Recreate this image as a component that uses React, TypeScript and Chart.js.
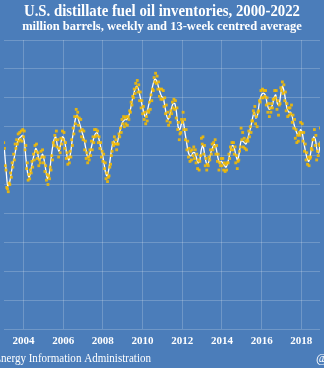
import React, { useEffect, useRef } from 'react';
import { Chart, registerables } from 'chart.js';

Chart.register(...registerables);

// ---------- data (million barrels) ----------
const seriesYears = [2003, 2004, 2005, 2006, 2007, 2008, 2009, 2010, 2011, 2012, 2013, 2014, 2015, 2016, 2017, 2018];

// weekly inventories, read every other week (26 readings per year)
const wk2003 = [129, 125, 113, 110, 98, 97, 95, 101, 100, 108, 105, 115, 112, 121, 117, 128, 125, 131, 128, 135, 130, 136, 131, 137, 130, 138];
const wk2004 = [133, 137, 124, 127, 111, 115, 103, 107, 104, 110, 108, 116, 112, 121, 117, 127, 123, 128, 118, 122, 113, 117, 115, 123, 119, 124];
const wk2005 = [115, 119, 109, 113, 103, 107, 100, 106, 104, 112, 110, 120, 117, 129, 127, 134, 131, 137, 126, 131, 119, 125, 122, 132, 128, 137];
const wk2006 = [131, 136, 125, 129, 118, 122, 114, 119, 115, 123, 119, 131, 127, 139, 135, 147, 142, 152, 147, 150, 141, 146, 137, 145, 133, 138];
const wk2007 = [131, 137, 124, 130, 118, 122, 115, 119, 117, 124, 120, 130, 124, 133, 129, 138, 133, 138, 134, 137, 129, 133, 125, 129, 119, 123];
const wk2008 = [116, 121, 111, 115, 104, 108, 102, 105, 106, 112, 114, 120, 123, 129, 127, 133, 128, 131, 124, 128, 128, 135, 133, 139, 136, 145];
const wk2009 = [142, 147, 140, 146, 142, 147, 141, 147, 145, 151, 150, 157, 155, 161, 160, 166, 163, 170, 167, 172, 164, 169, 158, 164, 153, 158];
const wk2010 = [149, 154, 145, 150, 142, 147, 144, 151, 150, 157, 152, 162, 158, 166, 165, 174, 171, 177, 170, 175, 166, 171, 161, 166, 159, 166];
const wk2011 = [159, 165, 154, 160, 149, 155, 144, 150, 141, 147, 143, 151, 149, 157, 153, 159, 152, 158, 146, 153, 138, 143, 131, 135, 136, 145];
const wk2012 = [143, 150, 138, 145, 131, 138, 124, 130, 119, 125, 116, 123, 117, 124, 120, 126, 118, 124, 115, 121, 111, 117, 110, 116, 120, 132];
const wk2013 = [128, 133, 121, 127, 113, 118, 110, 114, 113, 119, 117, 124, 121, 128, 124, 129, 126, 131, 121, 127, 116, 121, 110, 115, 113, 118];
const wk2014 = [113, 118, 110, 115, 109, 114, 110, 115, 115, 121, 118, 126, 124, 129, 124, 129, 121, 126, 115, 120, 111, 116, 117, 123, 126, 139];
const wk2015 = [131, 136, 126, 132, 125, 130, 124, 131, 130, 137, 133, 140, 136, 144, 144, 151, 149, 154, 142, 147, 140, 150, 151, 158, 157, 165];
const wk2016 = [160, 166, 160, 165, 161, 165, 155, 160, 150, 156, 147, 153, 150, 156, 153, 159, 159, 165, 160, 165, 152, 158, 148, 155, 156, 167];
const wk2017 = [165, 171, 163, 169, 158, 164, 151, 156, 147, 153, 148, 153, 149, 155, 143, 148, 139, 145, 132, 138, 129, 134, 130, 136, 134, 143];
const wk2018 = [136, 142, 130, 136, 123, 128, 117, 122, 114, 119, 113, 118, 119, 125, 124, 131, 131, 138, 127, 134, 117, 123, 120, 128, 127, 139];

// 13-week centred average, read once a month (mid-month)
const avg2003 = [124, 110, 99, 101, 107, 114, 119, 125, 130, 132, 133, 134];
const avg2004 = [130, 118, 108, 105, 110, 116, 121, 125, 122, 117, 118, 121];
const avg2005 = [117, 110, 104, 107, 116, 125, 131, 133, 127, 123, 128, 133];
const avg2006 = [132, 126, 119, 117, 122, 131, 139, 146, 148, 144, 140, 136];
const avg2007 = [132, 126, 120, 119, 123, 128, 132, 135, 136, 132, 127, 122];
const avg2008 = [116, 109, 106, 110, 118, 126, 130, 128, 128, 133, 138, 142];
const avg2009 = [144, 145, 145, 147, 151, 157, 162, 166, 168, 166, 161, 156];
const avg2010 = [151, 147, 149, 154, 159, 165, 170, 173, 172, 168, 164, 161];
const avg2011 = [160, 154, 148, 145, 148, 153, 156, 156, 150, 140, 138, 142];
const avg2012 = [144, 137, 130, 123, 120, 120, 122, 122, 119, 115, 116, 124];
const avg2013 = [127, 121, 115, 114, 118, 123, 126, 128, 125, 119, 115, 116];
const avg2014 = [115, 113, 112, 115, 120, 125, 127, 125, 120, 117, 122, 130];
const avg2015 = [130, 129, 128, 131, 136, 140, 146, 150, 146, 148, 156, 161];
const avg2016 = [163, 163, 161, 155, 152, 153, 155, 160, 162, 156, 155, 162];
const avg2017 = [168, 165, 158, 152, 150, 150, 147, 142, 138, 135, 134, 138];
const avg2018 = [136, 129, 123, 118, 116, 121, 128, 133, 131, 124, 122, 130];

const weeklyByYear = [wk2003, wk2004, wk2005, wk2006, wk2007, wk2008, wk2009, wk2010, wk2011, wk2012, wk2013, wk2014, wk2015, wk2016, wk2017, wk2018];
const avgByYear = [avg2003, avg2004, avg2005, avg2006, avg2007, avg2008, avg2009, avg2010, avg2011, avg2012, avg2013, avg2014, avg2015, avg2016, avg2017, avg2018];

const tickYears = [2004, 2006, 2008, 2010, 2012, 2014, 2016, 2018];
const yGridValues = [0, 20, 40, 60, 80, 100, 120, 140, 160, 180, 200];

const TITLE = 'U.S. distillate fuel oil inventories, 2000-2022';
const SUBTITLE = 'million barrels, weekly and 13-week centred average';
const SOURCE = 'Source: U.S. Energy Information Administration';
const HANDLE = '@JKempEnergy';

// ---------- styling ----------
const W = 324;
const H = 368;
const BG = '#4b7dba';
const GRID = 'rgba(255,255,255,0.2)';
const DOT = 'rgba(246,188,0,0.88)';
const SERIF = '"Liberation Serif", "DejaVu Serif", serif';

const weeklyPoints = weeklyByYear.flatMap((vals, yi) =>
  vals.map((v, i) => ({ x: seriesYears[yi] + (2 + 14 * i) / 365, y: v }))
);
const avgPoints = avgByYear.flatMap((vals, yi) =>
  vals.map((v, m) => ({ x: seriesYears[yi] + (m + 0.5) / 12, y: v }))
);

const decor = {
  id: 'decor',
  beforeDraw(chart: any) {
    const { ctx } = chart;
    ctx.save();
    ctx.fillStyle = BG;
    ctx.fillRect(0, 0, chart.width, chart.height);
    ctx.restore();
  },
  afterDraw(chart: any) {
    const { ctx } = chart;
    ctx.save();
    ctx.fillStyle = '#ffffff';
    ctx.textBaseline = 'middle';
    ctx.textAlign = 'center';
    ctx.font = `bold 16px ${SERIF}`;
    ctx.fillText(TITLE, 162, 12, 276);
    ctx.font = `bold 12.5px ${SERIF}`;
    ctx.fillText(SUBTITLE, 162, 27, 280);

    // source line (partly outside the crop on the left)
    ctx.font = `12.5px ${SERIF}`;
    const tail = SOURCE.slice(SOURCE.indexOf('nergy'));
    const tw = ctx.measureText(tail).width;
    const sx = Math.min(1, 150 / tw);
    ctx.save();
    ctx.translate(151, 359);
    ctx.scale(sx, 1);
    ctx.textAlign = 'right';
    ctx.fillText(SOURCE, 0, 0);
    ctx.restore();

    ctx.textAlign = 'left';
    ctx.fillText(HANDLE, 316, 359);
    ctx.restore();
  },
};

export default function App() {
  const ref = useRef<HTMLCanvasElement | null>(null);

  useEffect(() => {
    if (!ref.current) return;
    const chart = new Chart(ref.current, {
      type: 'line',
      data: {
        datasets: [
          {
            label: 'weekly',
            data: weeklyPoints,
            showLine: false,
            pointStyle: 'rect',
            pointRadius: 2,
            pointBackgroundColor: DOT,
            pointBorderWidth: 0,
            backgroundColor: DOT,
            borderColor: DOT,
          },
          {
            label: '13-week centred average',
            data: avgPoints,
            borderColor: '#ffffff',
            borderWidth: 1.3,
            pointRadius: 0,
            tension: 0.3,
            fill: false,
          },
        ],
      },
      options: {
        responsive: false,
        animation: false,
        events: [],
        layout: { padding: { top: 40, left: 0, right: 0, bottom: 0 } },
        plugins: {
          legend: { display: false },
          title: { display: false },
          tooltip: { enabled: false },
        },
        scales: {
          x: {
            type: 'linear',
            min: 2003.02,
            max: 2018.94,
            afterBuildTicks: (s: any) => {
              s.ticks = tickYears.map((v) => ({ value: v }));
            },
            afterFit: (s: any) => {
              s.height = 39;
            },
            ticks: {
              color: '#ffffff',
              font: { family: SERIF, size: 11, weight: 'bold' },
              padding: 6,
              maxRotation: 0,
              autoSkip: false,
              callback: (v: any) => String(v),
            },
            grid: { color: GRID, drawTicks: false, lineWidth: 1 },
            border: { display: false },
          },
          y: {
            min: 0,
            max: 200,
            afterBuildTicks: (s: any) => {
              s.ticks = yGridValues.map((v) => ({ value: v }));
            },
            afterFit: (s: any) => {
              s.width = 0;
            },
            ticks: { display: false },
            grid: { color: GRID, drawTicks: false, lineWidth: 1 },
            border: { display: false },
          },
        },
      },
      plugins: [decor],
    } as any);
    return () => chart.destroy();
  }, []);

  return (
    <div style={{ position: 'fixed', left: 0, top: 0, width: W, height: H, background: BG }}>
      <canvas ref={ref} width={W} height={H} style={{ display: 'block', width: W, height: H }} />
    </div>
  );
}
